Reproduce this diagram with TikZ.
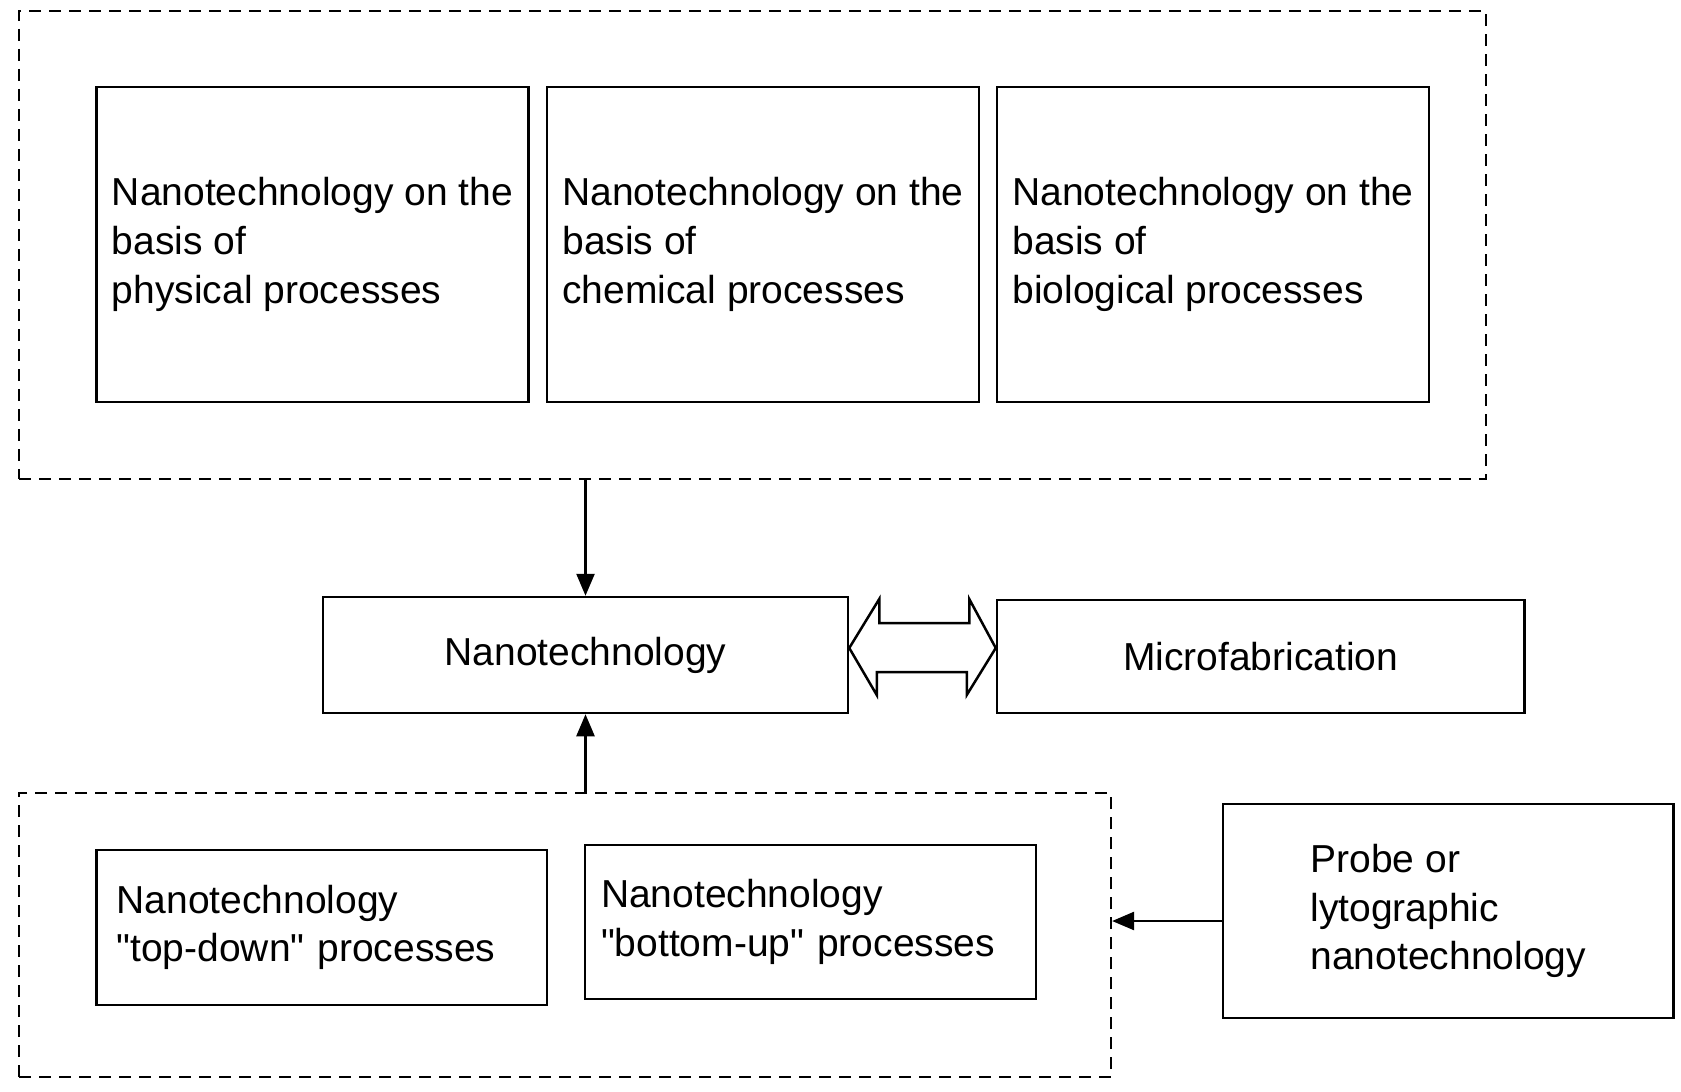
\documentclass[tikz,border=0pt]{standalone}
\usepackage{fontspec}
\setmainfont{Liberation Sans}[Ligatures=TeXOff]
\usetikzlibrary{arrows.meta,calc}
\newcommand{\sq}{\char34\relax}
\begin{document}
\begin{tikzpicture}[x=1pt,y=-1pt,
  box/.style={draw,line width=2.5pt,rectangle,inner sep=0pt,align=left,
    font=\fontsize{39}{48.8}\selectfont},
  grp/.style={draw,line width=2.2pt,dash pattern=on 12pt off 8pt,rectangle,inner sep=0pt},
  arr/.style={line width=2.5pt,-{Triangle[width=18pt,length=22pt]}},
  dbl/.style={line width=2.5pt,line join=miter,fill=white}]
\useasboundingbox[fill=white] (0,0) rectangle (1681,1092);

% top group
\node[grp,minimum width=1467,minimum height=468] (topgrp) at (752.5,245) {};
\node[box,minimum width=432,minimum height=315] (phys) at (312.5,244.5)
  {Nanotechnology on the\\basis of\\physical processes};
\node[box,minimum width=432,minimum height=315] (chem) at (763,244.5)
  {Nanotechnology on the\\basis of\\chemical processes};
\node[box,minimum width=432,minimum height=315] (bio) at (1213,244.5)
  {Nanotechnology on the\\basis of\\biological processes};

% middle row
\node[box,minimum width=525,minimum height=116] (nano) at (585.5,655) {Nanotechnology};
\node[box,minimum width=527.5,minimum height=113] (micro) at (1260.75,656.5) {Microfabrication};

% bottom group
\node[grp,minimum width=1092,minimum height=284] (botgrp) at (565,935) {};
\node[box,inner xsep=20pt,text width=410.5pt,minimum height=155] (topdown) at (321.75,927.5)
  {Nanotechnology\\\sq top-down\sq{} processes};
\node[box,inner xsep=16pt,text width=419pt,minimum height=154] (bottomup) at (810.5,922)
  {Nanotechnology\\\sq bottom-up\sq{} processes};
\node[box,minimum width=450.5,minimum height=214] (probe) at (1448.25,911)
  {Probe or\\lytographic\\nanotechnology};

% connectors
\draw[arr] (nano.north |- topgrp.south) -- (nano.north);
\draw[arr] (nano.north |- botgrp.north) -- (nano.south);
\draw[arr] ([yshift=-10pt]probe.west) -- ([yshift=-10pt]probe.west -| botgrp.east);

% double block arrow between nano and micro
\draw[dbl] ([yshift=7pt]nano.east) -- ++(30,-49) -- ++(0,24) -- ++(90,0) -- ++(0,-24)
  -- ([yshift=8.5pt]micro.west) -- ++(-29,47) -- ++(0,-23) -- ++(-90,0) -- ++(0,23) -- cycle;
\end{tikzpicture}
\end{document}
